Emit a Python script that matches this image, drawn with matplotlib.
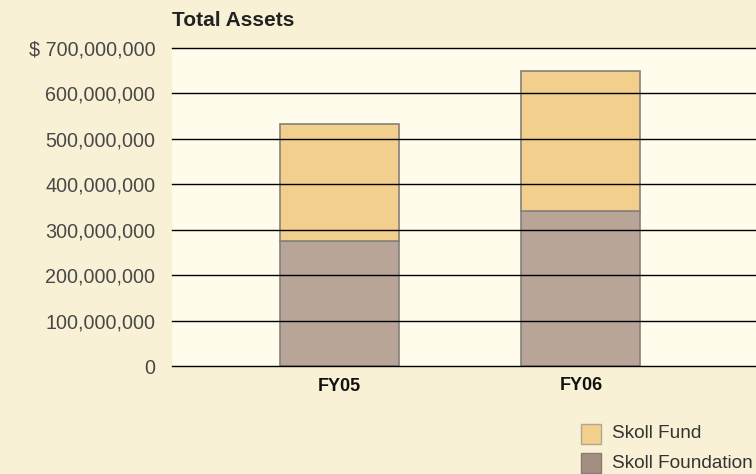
import matplotlib.pyplot as plt
from matplotlib.patches import Rectangle
from matplotlib.ticker import FuncFormatter

years = ['FY05', 'FY06']
foundation = [275000000, 341000000]
fund = [258000000, 309000000]
ticks = [0, 100000000, 200000000, 300000000, 400000000, 500000000, 600000000, 700000000]
legend_labels = ['Skoll Fund', 'Skoll Foundation']

c_fund = '#f2cf8c'
c_found = '#b8a598'
c_found_leg = '#a38e82'
edge = '#85807c'

plt.rcParams['font.family'] = ['Liberation Sans', 'DejaVu Sans']

W, H = 756, 474
fig = plt.figure(figsize=(W / 100, H / 100), dpi=100)
fig.patch.set_facecolor('#f9f1d6')
ax = fig.add_axes([172 / W, 108 / H, 1 - 172 / W, 318 / H])
ax.set_facecolor('#fffcec')

x = [0, 1]
ax.bar(x, foundation, width=0.493, color=c_found, edgecolor=edge, linewidth=1.2, zorder=3)
ax.bar(x, fund, bottom=foundation, width=0.493, color=c_fund, edgecolor=edge, linewidth=1.2, zorder=3)

ax.set_ylim(0, 700000000)
ax.set_xlim(-0.6936, 1.725)
ax.set_yticks(ticks)
for t in ticks:
    ax.axhline(t, color='black', linewidth=1.0, zorder=5, clip_on=False)


def fmt(v, pos):
    s = f'{int(v):,}'
    return '$ ' + s if v == ticks[-1] else s


ax.yaxis.set_major_formatter(FuncFormatter(fmt))
ax.tick_params(axis='y', length=0, pad=12, labelsize=14.2, labelcolor='#484848')
ax.set_xticks([])
for s in ax.spines.values():
    s.set_visible(False)

for xi, lab, dy in zip(x, years, [-15.1, -13.7]):
    ax.annotate(lab, (xi, 0), xytext=(0, dy), textcoords='offset points',
                ha='center', va='center', fontsize=13, fontweight='bold', color='#111111')

fig.text(172 / W, 1 - 21 / H, 'Total Assets', fontsize=15, fontweight='bold',
         color='#222222', va='center', ha='left')

# legend
leg_colors = [(c_fund, '#b0a890'), (c_found_leg, '#8a7a70')]
for i, (lab, (fc, ec)) in enumerate(zip(legend_labels, leg_colors)):
    top = 424 + i * 29
    fig.patches.append(Rectangle((581 / W, 1 - (top + 20) / H), 20 / W, 20 / H,
                                 transform=fig.transFigure, facecolor=fc,
                                 edgecolor=ec, linewidth=1.0))
    fig.text(612 / W, 1 - (top + 10) / H, lab, fontsize=13.7, color='#333333',
             va='center', ha='left')

fig.savefig('out.png', dpi=100, facecolor=fig.get_facecolor())
